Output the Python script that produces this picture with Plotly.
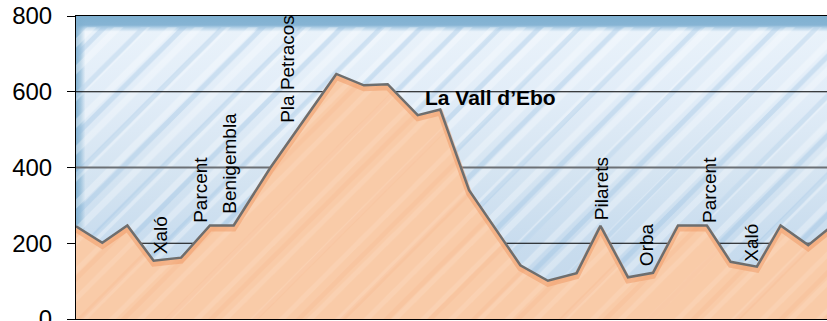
import plotly.graph_objects as go

# Route profile: distance along the loop (km) and elevation (m)
distance_km = [0.0, 2.1, 4.1, 6.2, 8.4, 10.7, 12.6, 15.5, 20.8, 23.0, 24.9, 27.3,
               29.1, 31.4, 35.5, 37.7, 40.0, 41.9, 44.1, 46.1, 48.1, 50.4,
               52.3, 54.4, 56.3, 58.5, 61.0]
elevation_m = [245, 201, 247, 154, 162, 247, 247, 398, 647, 617, 620, 538,
               553, 340, 142, 101, 121, 246, 110, 122, 247, 247,
               151, 138, 247, 195, 262]

# Places along the route, with the distance and height where the name starts
place_names = ["Xaló", "Parcent", "Benigembla", "Pla Petracos", "Pilarets",
               "Orba", "Parcent", "Xaló"]
place_km = [6.75, 10.0, 12.3, 16.95, 42.0, 45.6, 50.6, 53.9]
place_label_m = [167, 249, 274, 513, 256, 135, 249, 145]

title_text = "La Vall d’Ebo"
title_km = 33.1
title_m = 584

y_ticks = [0, 200, 400, 600, 800]
x_range = [0, 60]
y_range = [0, 800]

FONT = "Liberation Sans, Arial, sans-serif"
SKY_EDGE = "rgba(128,176,208,{a})"

fig = go.Figure()

# Sky: vertical gradient from pale blue to a darker band at the top
x_span = [x_range[0], distance_km[-1]]
fig.add_trace(go.Scatter(
    x=x_span, y=[y_range[1]] * 2, mode="none", fill="tozeroy",
    fillgradient=dict(
        type="vertical", start=y_range[0], stop=y_range[1],
        colorscale=[[0.0, "#c2d7ea"], [0.25, "#c8dcee"], [0.5, "#d6e5f2"],
                    [0.75, "#e2edf8"], [0.948, "#e9f2fa"], [0.96, "#b8d4e9"],
                    [0.97, "#86b4d4"], [1.0, "#7fb0d0"]]),
    hoverinfo="skip", showlegend=False))

# Darker fringe along the left edge of the sky
fig.add_trace(go.Scatter(
    x=[x_range[0], 0.75], y=[y_range[1]] * 2, mode="none", fill="tozeroy",
    fillgradient=dict(
        type="horizontal", start=x_range[0], stop=0.75,
        colorscale=[[0.0, SKY_EDGE.format(a=0.95)], [0.5, SKY_EDGE.format(a=0.6)],
                    [1.0, SKY_EDGE.format(a=0.0)]]),
    hoverinfo="skip", showlegend=False))

# Sky scribble strokes
fig.add_trace(go.Scatter(
    x=x_span, y=[y_range[1] * 0.963] * 2, mode="none", fill="tozeroy",
    fillcolor="rgba(0,0,0,0)",
    fillpattern=dict(shape="/", fgcolor="rgba(255,255,255,0.6)",
                     bgcolor="rgba(0,0,0,0)", size=19, solidity=0.35),
    hoverinfo="skip", showlegend=False))
fig.add_trace(go.Scatter(
    x=x_span, y=[y_range[1] * 0.963] * 2, mode="none", fill="tozeroy",
    fillcolor="rgba(0,0,0,0)",
    fillpattern=dict(shape="/", fgcolor="rgba(140,184,222,0.6)",
                     bgcolor="rgba(0,0,0,0)", size=28, solidity=0.18),
    hoverinfo="skip", showlegend=False))

# Horizontal reference lines (behind the terrain)
grid_style = {200: ("#000000", 1), 400: ("#6c7075", 2), 600: ("#000000", 1)}
for v in y_ticks[1:-1]:
    col, w = grid_style[v]
    fig.add_trace(go.Scatter(
        x=x_span, y=[v, v], mode="lines", line=dict(color=col, width=w),
        hoverinfo="skip", showlegend=False))

# Terrain fill
fig.add_trace(go.Scatter(
    x=distance_km, y=elevation_m, mode="none", fill="tozeroy",
    fillcolor="#f9cba8",
    fillpattern=dict(shape="/", fgcolor="rgba(252,220,196,0.7)",
                     bgcolor="#f9cba8", size=20, solidity=0.25),
    hoverinfo="skip", showlegend=False))
fig.add_trace(go.Scatter(
    x=distance_km, y=elevation_m, mode="none", fill="tozeroy",
    fillcolor="rgba(0,0,0,0)",
    fillpattern=dict(shape="/", fgcolor="rgba(238,160,110,0.3)",
                     bgcolor="rgba(0,0,0,0)", size=31, solidity=0.15),
    hoverinfo="skip", showlegend=False))

# Darker orange shading just below the ridge
fig.add_trace(go.Scatter(
    x=distance_km, y=[e - 8 for e in elevation_m], mode="lines",
    line=dict(color="rgba(240,152,98,0.5)", width=6),
    hoverinfo="skip", showlegend=False))

# Ridge outline
fig.add_trace(go.Scatter(
    x=distance_km, y=elevation_m, mode="lines",
    line=dict(color="#6e6e6e", width=2.5),
    hoverinfo="skip", showlegend=False))

# Place names, written upwards
for name, xk, ym in zip(place_names, place_km, place_label_m):
    fig.add_annotation(
        x=xk, y=ym, text=name, showarrow=False, textangle=-90,
        xanchor="center", yanchor="bottom",
        font=dict(family=FONT, size=19, color="#000000"))

fig.add_annotation(
    x=title_km, y=title_m, text=title_text, showarrow=False,
    xanchor="center", yanchor="middle",
    font=dict(family=FONT, size=21, color="#000000", weight=700))

fig.update_layout(
    width=827, height=321,
    margin=dict(l=76, r=0, t=16, b=2, autoexpand=False),
    paper_bgcolor="white", plot_bgcolor="white",
    showlegend=False,
    xaxis=dict(range=x_range, showgrid=False, zeroline=False,
               showticklabels=False, ticks="", showline=True,
               linecolor="#000000", linewidth=1, mirror=True,
               automargin=False),
    yaxis=dict(range=y_range, tickvals=y_ticks, showgrid=False,
               zeroline=False, ticks="outside", ticklen=8,
               tickcolor="#000000", showline=True, linecolor="#000000",
               linewidth=1, ticklabelstandoff=10, ticklabeloverflow="allow",
               automargin=False,
               tickfont=dict(family=FONT, size=24, color="#000000")),
)

fig.write_html("out.html")
